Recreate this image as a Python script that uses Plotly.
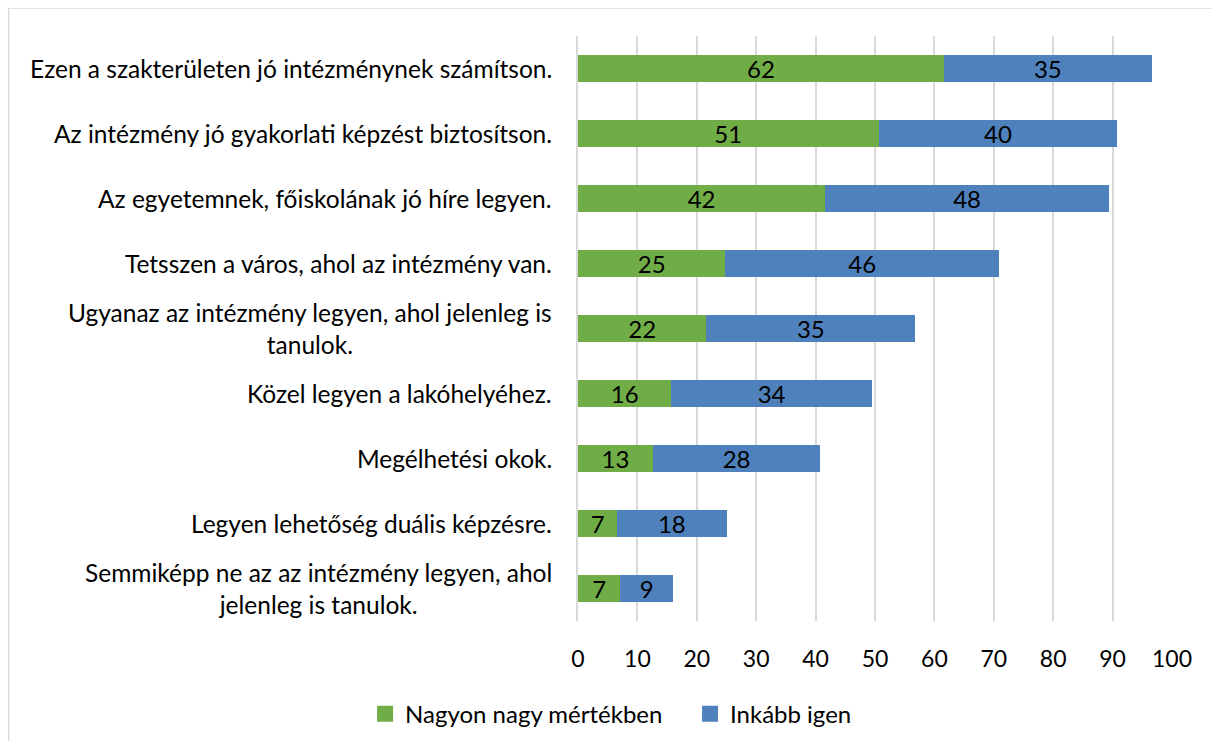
import plotly.graph_objects as go

# Categories (top to bottom) and values
categories = [
    "Ezen a szakterületen jó intézménynek számítson.",
    "Az intézmény jó gyakorlati képzést biztosítson.",
    "Az egyetemnek, főiskolának jó híre legyen.",
    "Tetsszen a város, ahol az intézmény van.",
    "Ugyanaz az intézmény legyen, ahol jelenleg is<br>tanulok.",
    "Közel legyen a lakóhelyéhez.",
    "Megélhetési okok.",
    "Legyen lehetőség duális képzésre.",
    "Semmiképp ne az az intézmény legyen, ahol<br>jelenleg is tanulok.",
]
nagyon = [61.6, 50.6, 41.6, 24.8, 21.6, 15.7, 12.6, 6.6, 7.1]
inkabb = [35.0, 40.2, 47.8, 46.1, 35.2, 33.8, 28.2, 18.4, 8.9]
x_ticks = [0, 10, 20, 30, 40, 50, 60, 70, 80, 90, 100]

FONT = "Lato"
GREEN = "#70AD47"
BLUE = "#4F81BD"
SIZE = 24

fig = go.Figure()

series = [(nagyon, "Nagyon nagy mértékben", GREEN, "legend"),
          (inkabb, "Inkább igen", BLUE, "legend2")]
for vals, name, col, _ in series:
    fig.add_trace(go.Bar(
        y=categories, x=vals, orientation="h", name=name, showlegend=False,
        marker=dict(color=col, line=dict(width=0)),
        texttemplate="%{x:.0f}", textposition="inside", insidetextanchor="middle",
        textangle=0, constraintext="none",
        textfont=dict(family=FONT, size=SIZE, color="black"),
    ))

# legend entries with bigger square swatches, one legend per entry
for vals, name, col, lg in series:
    fig.add_trace(go.Scatter(
        x=[None], y=[None], mode="markers", name=name, legend=lg,
        marker=dict(symbol="square", size=16, color=col),
    ))

# category labels as annotations so wrapped lines are centred like the original
for cat in categories:
    fig.add_annotation(
        x=-0.04, xref="paper", y=cat, yref="y", text=cat,
        showarrow=False, xanchor="right", align="center",
        font=dict(family=FONT, size=24.5, color="black"),
    )

# outer chart border
fig.add_shape(type="rect", xref="paper", yref="paper",
              x0=-0.9585, x1=1.2, y0=-0.3, y1=1.048,
              line=dict(color="#D9D9D9", width=1.5), fillcolor="rgba(0,0,0,0)")

legend_style = dict(orientation="h", yref="container", yanchor="middle", y=0.0368,
                    xanchor="left", font=dict(family=FONT, size=SIZE),
                    bgcolor="rgba(0,0,0,0)")

fig.update_layout(
    barmode="stack",
    bargap=0.57,
    width=1204, height=733,
    margin=dict(l=570, r=40, t=28, b=120, autoexpand=False),
    paper_bgcolor="white", plot_bgcolor="white",
    font=dict(family=FONT, size=SIZE, color="black"),
    legend=dict(x=-0.3585, **legend_style),
    legend2=dict(x=0.1886, **legend_style),
)
fig.update_xaxes(range=[0, 100], tickvals=x_ticks, showgrid=True, gridcolor="#D9D9D9",
                 gridwidth=1.5, zeroline=False, showline=False, ticks="",
                 tickfont=dict(family=FONT, size=23), ticklabelstandoff=22)
fig.update_yaxes(autorange="reversed", showticklabels=False, showgrid=False,
                 showline=True, linecolor="#D9D9D9", linewidth=1.5, ticks="")

fig.write_html("out.html")
